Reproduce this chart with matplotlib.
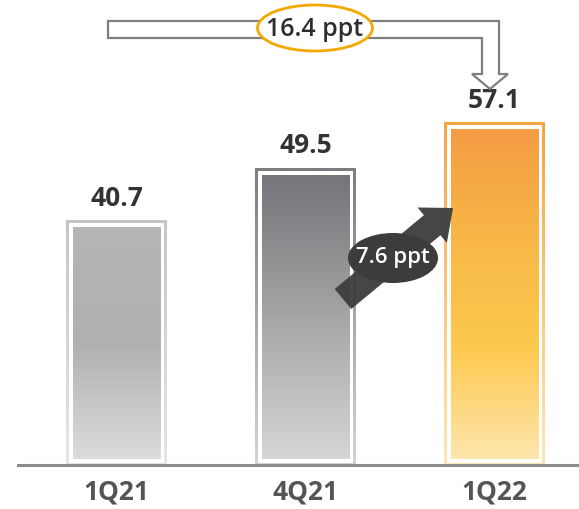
import numpy as np
import matplotlib
matplotlib.use("Agg")
import matplotlib.pyplot as plt
from matplotlib.colors import LinearSegmentedColormap
from matplotlib.patches import Rectangle, Ellipse, Polygon, FancyArrow

# data
quarters = ["1Q21", "4Q21", "1Q22"]
values = [40.7, 49.5, 57.1]
total_change = "16.4 ppt"
qoq_change = "7.6 ppt"

# gradient colours (top -> bottom) for each bar: outer border and inner fill
border_cols = [["#c4c5c7", "#e6e6e7"],
               ["#7c7d80", "#d4d4d5"],
               ["#f7a445", "#fde8b8"]]
fill_cols = [["#b5b6b8", "#afb0b2", "#dcdcdd"],
             ["#747578", "#d6d6d7"],
             ["#f59c45", "#f8b747", "#fdc94f", "#fde6ad"]]

plt.rcParams['font.family'] = ['Open Sans', 'DejaVu Sans']

fig = plt.figure(figsize=(5.79, 5.10), dpi=100)
W, H = 579, 510
ax = fig.add_axes([18 / W, 44 / H, (W - 18) / W, 466 / H])

xpos = np.arange(len(quarters))
bars = ax.bar(xpos, values, width=0.534, color="none", edgecolor="none")

px_x = 1 / 189.0   # data units per pixel, x
px_y = 1 / 6.0     # data units per pixel, y


def grad(ax, cols, x0, x1, y0, y1, z):
    cmap = LinearSegmentedColormap.from_list("g", cols)
    img = np.linspace(0, 1, 256).reshape(-1, 1)
    ax.imshow(img, cmap=cmap, extent=[x0, x1, y0, y1], origin="upper",
              aspect="auto", zorder=z, interpolation="bilinear")


for i, b in enumerate(bars):
    x0, w, h = b.get_x(), b.get_width(), b.get_height()
    # outer coloured border
    grad(ax, border_cols[i], x0, x0 + w, 0, h, 2)
    # white gap
    bx, by = 2.5 * px_x, 2.5 * px_y
    ax.add_patch(Rectangle((x0 + bx, by), w - 2 * bx, h - 2 * by,
                           facecolor="white", edgecolor="none", zorder=3))
    # inner gradient
    ix, iy = 6.5 * px_x, 6.5 * px_y
    grad(ax, fill_cols[i], x0 + ix, x0 + w - ix, iy, h - iy, 4)
    ax.annotate(f"{values[i]:.1f}", (xpos[i], h), xytext=(0, 7),
                textcoords="offset points", ha="center", va="bottom",
                fontsize=19, fontweight="bold", color="#333333")

ax.set_xlim(-98.5 / 189, 462.5 / 189)
ax.set_ylim(0, 466 / 6)
ax.set_xticks(xpos, quarters)
ax.tick_params(axis="x", length=0, pad=9, labelsize=19, labelcolor="#555555")
for lab in ax.get_xticklabels():
    lab.set_fontweight("bold")
ax.set_yticks([])
for s in ["top", "right", "left"]:
    ax.spines[s].set_visible(False)
ax.spines["bottom"].set_color("#8c8c8c")
ax.spines["bottom"].set_linewidth(2.2)
ax.spines["bottom"].set_zorder(6)

# overlay in pixel coordinates for the arrows / callouts
ov = fig.add_axes([0, 0, 1, 1])
ov.set_xlim(0, W)
ov.set_ylim(H, 0)
ov.axis("off")
ov.patch.set_alpha(0)

bracket = [(108, 22), (499, 22), (499, 75), (508, 75), (490, 90),
           (472, 75), (482, 75), (482, 39), (108, 39)]
ov.add_patch(Polygon(bracket, closed=True, facecolor="white",
                     edgecolor="#7f7f7f", lw=1.6, zorder=5))
ov.add_patch(Ellipse((315, 29), 115, 46, facecolor="white",
                     edgecolor="#f5a800", lw=2.0, zorder=6))
ov.text(315, 29, total_change, ha="center", va="center", fontsize=18,
        fontweight="semibold", color="#2e2e2e", zorder=7)

ov.add_patch(FancyArrow(343, 300, 110, -91, width=26, head_width=46,
                        head_length=27, length_includes_head=True,
                        facecolor="#3c3c3c", edgecolor="none", alpha=0.95,
                        zorder=5))
ov.add_patch(Ellipse((393, 259), 90, 50, facecolor="#3c3c3c",
                     edgecolor="none", zorder=6))
ov.text(393, 258, qoq_change, ha="center", va="center", fontsize=16,
        fontweight="semibold", color="white", zorder=7)

fig.savefig("out.png", dpi=100)
